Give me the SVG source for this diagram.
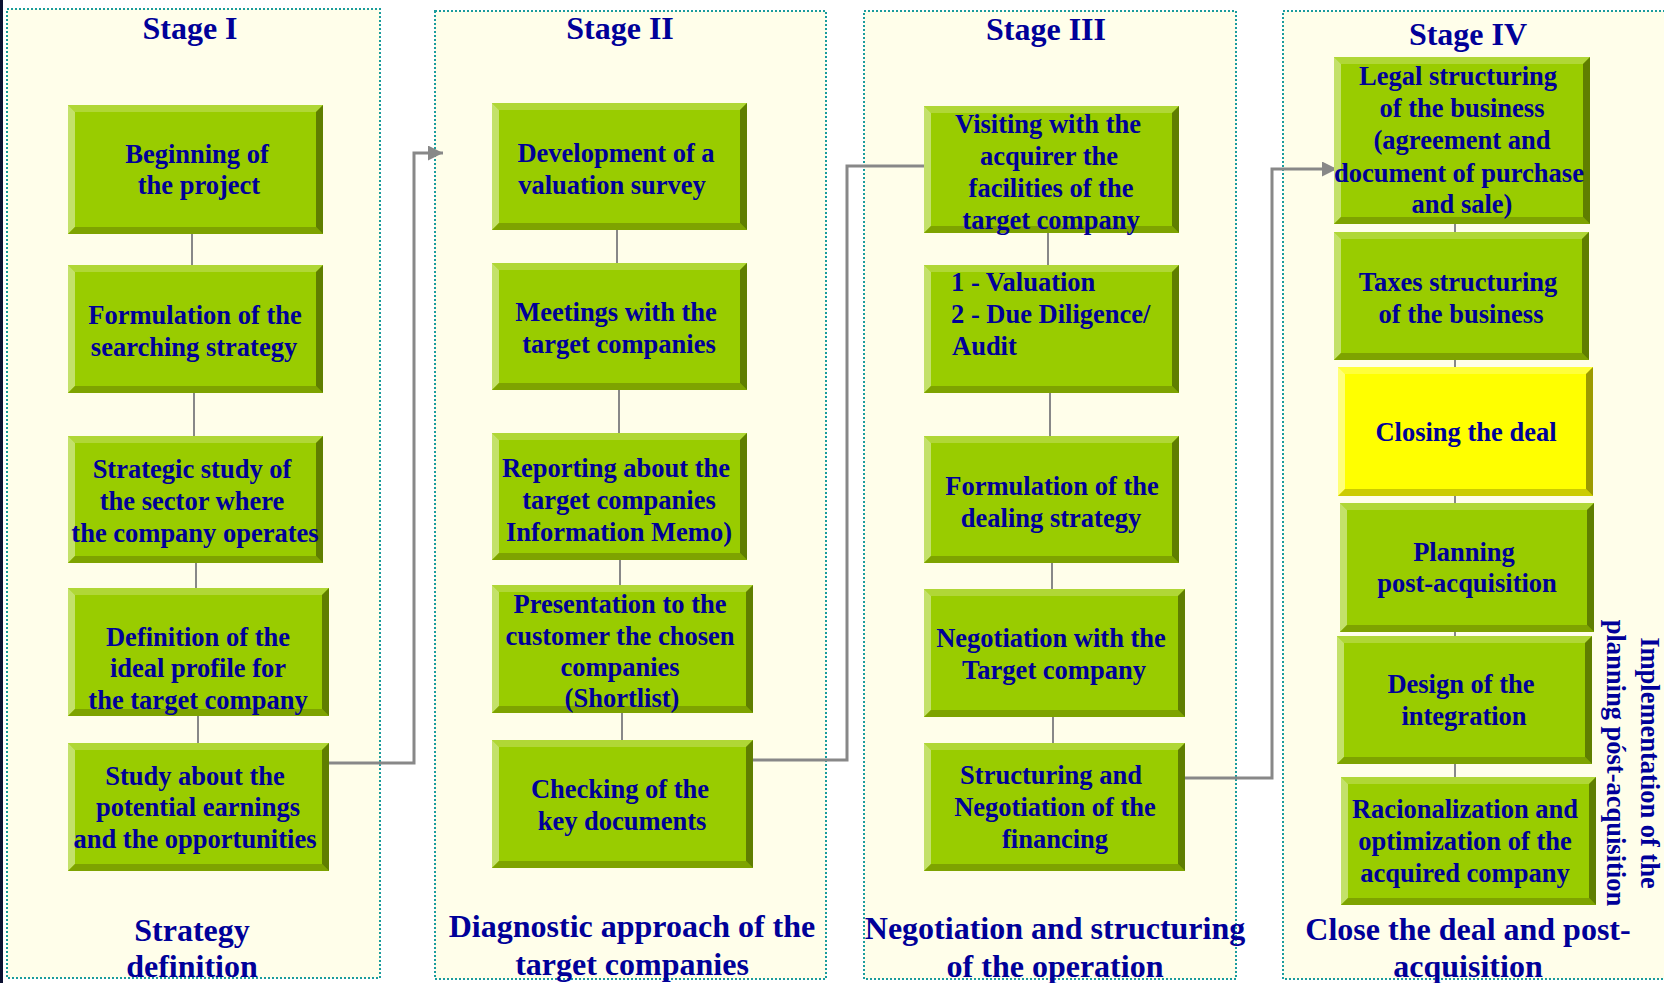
<svg xmlns="http://www.w3.org/2000/svg" width="1664" height="983" viewBox="0 0 1664 983">
<style>
.panel{fill:#fffeea;stroke:#1a9c9c;stroke-width:2;stroke-dasharray:2 2}
.t{font-family:"Liberation Serif","Times New Roman",serif;font-weight:bold;fill:#000099}
.nt{font-size:26.5px;text-anchor:middle}
.nl{font-size:26.5px;text-anchor:start}
.st{font-size:32px;text-anchor:middle}
.g .m{fill:#99cc00}.g .tp{fill:#b0d736}.g .lf{fill:#c3e16a}.g .bt{fill:#7ea300}.g .rt{fill:#5f7e00}
.y .m{fill:#ffff00}.y .tp{fill:#ffff3a}.y .lf{fill:#ffff78}.y .bt{fill:#cccc00}.y .rt{fill:#9c9a00}
.vc{stroke:#888;stroke-width:2;fill:none}
.hc{stroke:#888;stroke-width:3;fill:none}
</style>
<defs>
<marker id="ah" markerUnits="userSpaceOnUse" markerWidth="16" markerHeight="16" refX="15" refY="7.5" orient="auto">
<path d="M0,0 L15,7.5 L0,15 z" fill="#888"/>
</marker>
</defs>
<rect x="0" y="0" width="1664" height="983" fill="#ffffff"/>
<rect x="0" y="0" width="3" height="983" fill="#0a1030"/>
<g id="panels">
<rect class="panel" x="7" y="9" width="373" height="969"/>
<rect class="panel" x="435" y="11" width="391" height="968"/>
<rect class="panel" x="864" y="11" width="372" height="968"/>
<rect class="panel" x="1283" y="11" width="400" height="968"/>
</g>
<g id="connectors">
<line class="vc" x1="192" y1="234" x2="192" y2="265"/>
<line class="vc" x1="194" y1="393" x2="194" y2="436"/>
<line class="vc" x1="196" y1="563" x2="196" y2="588"/>
<line class="vc" x1="198" y1="716" x2="198" y2="743"/>
<line class="vc" x1="617" y1="230" x2="617" y2="263"/>
<line class="vc" x1="619" y1="390" x2="619" y2="433"/>
<line class="vc" x1="620" y1="560" x2="620" y2="585"/>
<line class="vc" x1="622" y1="713" x2="622" y2="740"/>
<line class="vc" x1="1048" y1="233" x2="1048" y2="265"/>
<line class="vc" x1="1050" y1="393" x2="1050" y2="436"/>
<line class="vc" x1="1052" y1="563" x2="1052" y2="589"/>
<line class="vc" x1="1053" y1="716" x2="1053" y2="743"/>
<line class="vc" x1="1455" y1="224" x2="1455" y2="232"/>
<line class="vc" x1="1455" y1="360" x2="1455" y2="367"/>
<line class="vc" x1="1455" y1="496" x2="1455" y2="503"/>
<line class="vc" x1="1455" y1="632" x2="1455" y2="636"/>
<line class="vc" x1="1455" y1="764" x2="1455" y2="777"/>
<polyline class="hc" points="329,763 414,763 414,153 443,153" marker-end="url(#ah)"/>
<polyline class="hc" points="753,760 847,760 847,166 924,166"/>
<polyline class="hc" points="1185,778 1272,778 1272,169 1337,169" marker-end="url(#ah)"/>
</g>
<g id="s1n1" class="g"><rect class="m" x="68" y="105" width="255" height="129"/><polygon class="tp" points="68,105 323,105 316,112 75,112"/><polygon class="lf" points="68,105 75,112 75,227 68,234"/><polygon class="bt" points="68,234 75,227 316,227 323,234"/><polygon class="rt" points="323,105 323,234 316,227 316,112"/>
<text class="t nt"><tspan x="197" y="163">Beginning of</tspan><tspan x="199" y="194">the project</tspan></text></g>
<g id="s1n2" class="g"><rect class="m" x="68" y="265" width="255" height="128"/><polygon class="tp" points="68,265 323,265 316,272 75,272"/><polygon class="lf" points="68,265 75,272 75,386 68,393"/><polygon class="bt" points="68,393 75,386 316,386 323,393"/><polygon class="rt" points="323,265 323,393 316,386 316,272"/>
<text class="t nt"><tspan x="195" y="324">Formulation of the</tspan><tspan x="194" y="356">searching strategy</tspan></text></g>
<g id="s1n3" class="g"><rect class="m" x="68" y="436" width="255" height="127"/><polygon class="tp" points="68,436 323,436 316,443 75,443"/><polygon class="lf" points="68,436 75,443 75,556 68,563"/><polygon class="bt" points="68,563 75,556 316,556 323,563"/><polygon class="rt" points="323,436 323,563 316,556 316,443"/>
<text class="t nt"><tspan x="192" y="478">Strategic study of</tspan><tspan x="192" y="510">the sector where</tspan><tspan x="195" y="542">the company operates</tspan></text></g>
<g id="s1n4" class="g"><rect class="m" x="68" y="588" width="261" height="128"/><polygon class="tp" points="68,588 329,588 322,595 75,595"/><polygon class="lf" points="68,588 75,595 75,709 68,716"/><polygon class="bt" points="68,716 75,709 322,709 329,716"/><polygon class="rt" points="329,588 329,716 322,709 322,595"/>
<text class="t nt"><tspan x="198" y="646">Definition of the</tspan><tspan x="198" y="677">ideal profile for</tspan><tspan x="198" y="709">the target company</tspan></text></g>
<g id="s1n5" class="g"><rect class="m" x="68" y="743" width="261" height="128"/><polygon class="tp" points="68,743 329,743 322,750 75,750"/><polygon class="lf" points="68,743 75,750 75,864 68,871"/><polygon class="bt" points="68,871 75,864 322,864 329,871"/><polygon class="rt" points="329,743 329,871 322,864 322,750"/>
<text class="t nt"><tspan x="195" y="785">Study about the</tspan><tspan x="198" y="816">potential earnings</tspan><tspan x="195" y="848">and the opportunities</tspan></text></g>
<g id="s2n1" class="g"><rect class="m" x="492" y="103" width="255" height="127"/><polygon class="tp" points="492,103 747,103 740,110 499,110"/><polygon class="lf" points="492,103 499,110 499,223 492,230"/><polygon class="bt" points="492,230 499,223 740,223 747,230"/><polygon class="rt" points="747,103 747,230 740,223 740,110"/>
<text class="t nt"><tspan x="616" y="162">Development of a</tspan><tspan x="612" y="194">valuation survey</tspan></text></g>
<g id="s2n2" class="g"><rect class="m" x="492" y="263" width="255" height="127"/><polygon class="tp" points="492,263 747,263 740,270 499,270"/><polygon class="lf" points="492,263 499,270 499,383 492,390"/><polygon class="bt" points="492,390 499,383 740,383 747,390"/><polygon class="rt" points="747,263 747,390 740,383 740,270"/>
<text class="t nt"><tspan x="616" y="321">Meetings with the</tspan><tspan x="619" y="353">target companies</tspan></text></g>
<g id="s2n3" class="g"><rect class="m" x="492" y="433" width="255" height="127"/><polygon class="tp" points="492,433 747,433 740,440 499,440"/><polygon class="lf" points="492,433 499,440 499,553 492,560"/><polygon class="bt" points="492,560 499,553 740,553 747,560"/><polygon class="rt" points="747,433 747,560 740,553 740,440"/>
<text class="t nt"><tspan x="616" y="477">Reporting about the</tspan><tspan x="619" y="509">target companies</tspan><tspan x="619" y="541">Information Memo)</tspan></text></g>
<g id="s2n4" class="g"><rect class="m" x="492" y="585" width="261" height="128"/><polygon class="tp" points="492,585 753,585 746,592 499,592"/><polygon class="lf" points="492,585 499,592 499,706 492,713"/><polygon class="bt" points="492,713 499,706 746,706 753,713"/><polygon class="rt" points="753,585 753,713 746,706 746,592"/>
<text class="t nt"><tspan x="620" y="613">Presentation to the</tspan><tspan x="620" y="645">customer the chosen</tspan><tspan x="620" y="676">companies</tspan><tspan x="622" y="707">(Shortlist)</tspan></text></g>
<g id="s2n5" class="g"><rect class="m" x="492" y="740" width="261" height="128"/><polygon class="tp" points="492,740 753,740 746,747 499,747"/><polygon class="lf" points="492,740 499,747 499,861 492,868"/><polygon class="bt" points="492,868 499,861 746,861 753,868"/><polygon class="rt" points="753,740 753,868 746,861 746,747"/>
<text class="t nt"><tspan x="620" y="798">Checking of the</tspan><tspan x="622" y="830">key documents</tspan></text></g>
<g id="s3n1" class="g"><rect class="m" x="924" y="106" width="255" height="127"/><polygon class="tp" points="924,106 1179,106 1172,113 931,113"/><polygon class="lf" points="924,106 931,113 931,226 924,233"/><polygon class="bt" points="924,233 931,226 1172,226 1179,233"/><polygon class="rt" points="1179,106 1179,233 1172,226 1172,113"/>
<text class="t nt"><tspan x="1048" y="133">Visiting with the</tspan><tspan x="1049" y="165">acquirer the</tspan><tspan x="1051" y="197">facilities of the</tspan><tspan x="1051" y="229">target company</tspan></text></g>
<g id="s3n2" class="g"><rect class="m" x="924" y="265" width="255" height="128"/><polygon class="tp" points="924,265 1179,265 1172,272 931,272"/><polygon class="lf" points="924,265 931,272 931,386 924,393"/><polygon class="bt" points="924,393 931,386 1172,386 1179,393"/><polygon class="rt" points="1179,265 1179,393 1172,386 1172,272"/>
<text class="t nl"><tspan x="951" y="291">1 - Valuation</tspan><tspan x="951" y="323">2 - Due Diligence/</tspan><tspan x="952" y="355">Audit</tspan></text></g>
<g id="s3n3" class="g"><rect class="m" x="924" y="436" width="255" height="127"/><polygon class="tp" points="924,436 1179,436 1172,443 931,443"/><polygon class="lf" points="924,436 931,443 931,556 924,563"/><polygon class="bt" points="924,563 931,556 1172,556 1179,563"/><polygon class="rt" points="1179,436 1179,563 1172,556 1172,443"/>
<text class="t nt"><tspan x="1052" y="495">Formulation of the</tspan><tspan x="1051" y="527">dealing strategy</tspan></text></g>
<g id="s3n4" class="g"><rect class="m" x="924" y="589" width="261" height="128"/><polygon class="tp" points="924,589 1185,589 1178,596 931,596"/><polygon class="lf" points="924,589 931,596 931,710 924,717"/><polygon class="bt" points="924,717 931,710 1178,710 1185,717"/><polygon class="rt" points="1185,589 1185,717 1178,710 1178,596"/>
<text class="t nt"><tspan x="1051" y="647">Negotiation with the</tspan><tspan x="1054" y="679">Target company</tspan></text></g>
<g id="s3n5" class="g"><rect class="m" x="924" y="743" width="261" height="128"/><polygon class="tp" points="924,743 1185,743 1178,750 931,750"/><polygon class="lf" points="924,743 931,750 931,864 924,871"/><polygon class="bt" points="924,871 931,864 1178,864 1185,871"/><polygon class="rt" points="1185,743 1185,871 1178,864 1178,750"/>
<text class="t nt"><tspan x="1051" y="784">Structuring and</tspan><tspan x="1055" y="816">Negotiation of the</tspan><tspan x="1055" y="848">financing</tspan></text></g>
<g id="s4n1" class="g"><rect class="m" x="1334" y="57" width="256" height="167"/><polygon class="tp" points="1334,57 1590,57 1583,64 1341,64"/><polygon class="lf" points="1334,57 1341,64 1341,217 1334,224"/><polygon class="bt" points="1334,224 1341,217 1583,217 1590,224"/><polygon class="rt" points="1590,57 1590,224 1583,217 1583,64"/>
<text class="t nt"><tspan x="1458" y="85">Legal structuring</tspan><tspan x="1462" y="117">of the business</tspan><tspan x="1462" y="149">(agreement and</tspan><tspan x="1459" y="182">document of purchase</tspan><tspan x="1462" y="213">and sale)</tspan></text></g>
<g id="s4n2" class="g"><rect class="m" x="1334" y="232" width="255" height="128"/><polygon class="tp" points="1334,232 1589,232 1582,239 1341,239"/><polygon class="lf" points="1334,232 1341,239 1341,353 1334,360"/><polygon class="bt" points="1334,360 1341,353 1582,353 1589,360"/><polygon class="rt" points="1589,232 1589,360 1582,353 1582,239"/>
<text class="t nt"><tspan x="1458" y="291">Taxes structuring</tspan><tspan x="1461" y="323">of the business</tspan></text></g>
<g id="s4n3" class="y"><rect class="m" x="1338" y="367" width="255" height="129"/><polygon class="tp" points="1338,367 1593,367 1586,374 1345,374"/><polygon class="lf" points="1338,367 1345,374 1345,489 1338,496"/><polygon class="bt" points="1338,496 1345,489 1586,489 1593,496"/><polygon class="rt" points="1593,367 1593,496 1586,489 1586,374"/>
<text class="t nt"><tspan x="1466" y="441">Closing the deal</tspan></text></g>
<g id="s4n4" class="g"><rect class="m" x="1340" y="503" width="254" height="129"/><polygon class="tp" points="1340,503 1594,503 1587,510 1347,510"/><polygon class="lf" points="1340,503 1347,510 1347,625 1340,632"/><polygon class="bt" points="1340,632 1347,625 1587,625 1594,632"/><polygon class="rt" points="1594,503 1594,632 1587,625 1587,510"/>
<text class="t nt"><tspan x="1464" y="561">Planning</tspan><tspan x="1467" y="592">post-acquisition</tspan></text></g>
<g id="s4n5" class="g"><rect class="m" x="1337" y="636" width="255" height="128"/><polygon class="tp" points="1337,636 1592,636 1585,643 1344,643"/><polygon class="lf" points="1337,636 1344,643 1344,757 1337,764"/><polygon class="bt" points="1337,764 1344,757 1585,757 1592,764"/><polygon class="rt" points="1592,636 1592,764 1585,757 1585,643"/>
<text class="t nt"><tspan x="1461" y="693">Design of the</tspan><tspan x="1464" y="725">integration</tspan></text></g>
<g id="s4n6" class="g"><rect class="m" x="1341" y="777" width="255" height="128"/><polygon class="tp" points="1341,777 1596,777 1589,784 1348,784"/><polygon class="lf" points="1341,777 1348,784 1348,898 1341,905"/><polygon class="bt" points="1341,905 1348,898 1589,898 1596,905"/><polygon class="rt" points="1596,777 1596,905 1589,898 1589,784"/>
<text class="t nt"><tspan x="1465" y="818">Racionalization and</tspan><tspan x="1465" y="850">optimization of the</tspan><tspan x="1465" y="882">acquired company</tspan></text></g>
<g id="labels">
<text class="t st" x="190" y="39">Stage I</text>
<text class="t st" x="620" y="39">Stage II</text>
<text class="t st" x="1046" y="40">Stage III</text>
<text class="t st" x="1468" y="45">Stage IV</text>
<text class="t st"><tspan x="192" y="941">Strategy</tspan><tspan x="192" y="977">definition</tspan></text>
<text class="t st"><tspan x="632" y="937">Diagnostic approach of the</tspan><tspan x="632" y="975">target companies</tspan></text>
<text class="t st"><tspan x="1055" y="939">Negotiation and structuring</tspan><tspan x="1055" y="977">of the operation</tspan></text>
<text class="t st"><tspan x="1468" y="940">Close the deal and post-</tspan><tspan x="1468" y="977">acquisition</tspan></text>
<text class="t nt" transform="translate(1641,763) rotate(90)">Implementation of the</text>
<text class="t nt" transform="translate(1607,763) rotate(90)">planning póst-acquisition</text>
</g>
</svg>
